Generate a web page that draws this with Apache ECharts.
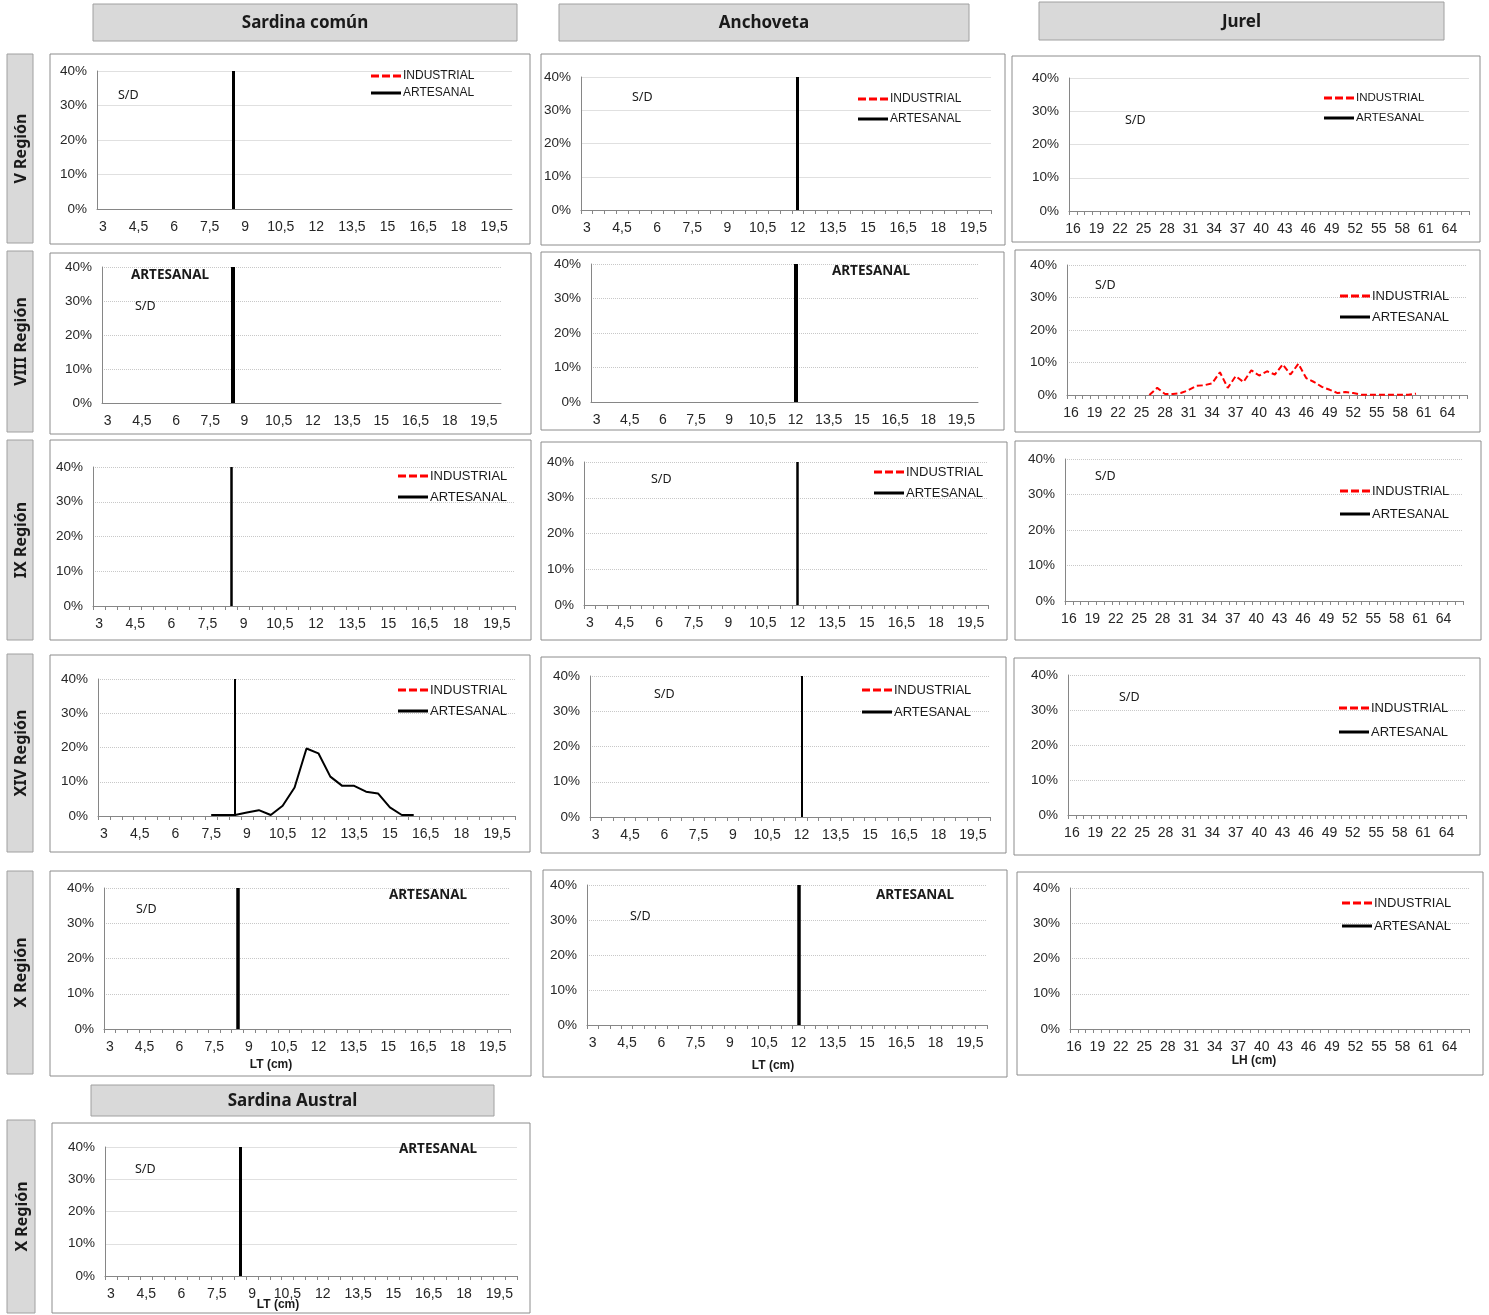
<!DOCTYPE html>
<html>
<head>
<meta charset="utf-8">
<title>Distribución de tallas por región</title>
<script src="https://cdn.jsdelivr.net/npm/echarts@6/dist/echarts.min.js"></script>
<style>
    html, body { margin: 0; padding: 0; background: #fff; }
    #chart { width: 1489px; height: 1315px; }
</style>
</head>
<body>
<div id="chart"></div>
<script>
(function() {

    // tallas (cm) de sardina común / anchoveta / sardina austral
    var tallasSardina = ['3', '3,5', '4', '4,5', '5', '5,5', '6', '6,5', '7', '7,5', '8', '8,5',
        '9', '9,5', '10', '10,5', '11', '11,5', '12', '12,5', '13', '13,5', '14', '14,5',
        '15', '15,5', '16', '16,5', '17', '17,5', '18', '18,5', '19', '19,5', '20'];

    // tallas (cm) de jurel
    var tallasJurel = ['16', '17', '18', '19', '20', '21', '22', '23', '24', '25', '26', '27',
        '28', '29', '30', '31', '32', '33', '34', '35', '36', '37', '38', '39', '40', '41',
        '42', '43', '44', '45', '46', '47', '48', '49', '50', '51', '52', '53', '54', '55',
        '56', '57', '58', '59', '60', '61', '62', '63', '64', '65', '66'];

    // eje y (%)
    var yMin = 0, yMax = 40, yPaso = 10;

    // XIV Región, sardina común, artesanal (%)
    var sardinaXIVArtesanal = [null, null, null, null, null, null, null, null, null,
        0.3, 0.3, 0.3, 1.0, 1.7, 0.3, 3.0, 8.3, 19.7, 18.3, 11.5, 8.8, 8.8, 7.1, 6.6,
        2.5, 0.3, 0.3, null, null, null, null, null, null, null, null];

    // VIII Región, jurel, industrial (%)
    var jurelVIIIIndustrial = [null, null, null, null, null, null, null, null, null, null,
        0.0, 2.2, 0.3, 0.3, 0.6, 1.5, 2.8, 3.0, 3.6, 7.0, 2.2, 5.8, 4.0, 7.6, 6.0, 7.3,
        6.3, 9.4, 6.3, 9.6, 5.2, 4.0, 2.5, 1.6, 0.6, 0.9, 0.6, 0.1, 0.1, 0.1, 0.1, 0.1,
        0.1, 0.1, 0.4, null, null, null, null, null, null];

    // talla mínima de referencia (línea vertical)
    var tallaRefSardina = '8,5';
    var tallaRefAnchoveta = '12';

    var encabezados = [
        { texto: 'Sardina común', caja: [93, 4, 424, 37] },
        { texto: 'Anchoveta', caja: [559, 4, 410, 37] },
        { texto: 'Jurel', caja: [1039, 2, 405, 38] },
        { texto: 'Sardina Austral', caja: [91, 1085, 403, 31] }
    ];

    var regiones = [
        { texto: 'V Región', caja: [7, 54, 26, 189] },
        { texto: 'VIII Región', caja: [7, 251, 26, 181] },
        { texto: 'IX Región', caja: [7, 440, 26, 200] },
        { texto: 'XIV Región', caja: [7, 654, 26, 198] },
        { texto: 'X Región', caja: [7, 871, 26, 203] },
        { texto: 'X Región', caja: [7, 1120, 28, 193] }
    ];

    var paneles = [
        // fila V Región
        { caja: [50, 54, 480, 190], grid: [97, 71, 415, 138], tallas: tallasSardina, ref: tallaRefSardina, lw: 3,
          ticks: false, solida: true, leyenda: [371, 76, 17, 12], sd: [118, 95] },
        { caja: [541, 54, 464, 191], grid: [581, 77, 410, 133], tallas: tallasSardina, ref: tallaRefAnchoveta, lw: 3,
          ticks: true, solida: true, leyenda: [858, 99, 20, 12], sd: [632, 97] },
        { caja: [1012, 56, 468, 186], grid: [1069, 78, 400, 133], tallas: tallasJurel,
          ticks: true, solida: true, leyenda: [1324, 98, 20, 11.5], sd: [1125, 120] },
        // fila VIII Región
        { caja: [50, 253, 481, 181], grid: [102, 267, 399, 136], tallas: tallasSardina, ref: tallaRefSardina, lw: 4,
          ticks: false, titulo: [170, 275], sd: [135, 306] },
        { caja: [541, 252, 463, 178], grid: [591, 264, 387, 138], tallas: tallasSardina, ref: tallaRefAnchoveta, lw: 4,
          ticks: false, titulo: [871, 271] },
        { caja: [1015, 250, 465, 182], grid: [1067, 265, 400, 130], tallas: tallasJurel, industrial: jurelVIIIIndustrial,
          ticks: true, leyenda: [1340, 296, 21, 13], sd: [1095, 285] },
        // fila IX Región
        { caja: [50, 440, 481, 200], grid: [93, 467, 422, 139], tallas: tallasSardina, ref: tallaRefSardina, lw: 2.5,
          ticks: true, leyenda: [398, 476, 21, 13] },
        { caja: [541, 442, 466, 198], grid: [584, 462, 404, 143], tallas: tallasSardina, ref: tallaRefAnchoveta, lw: 2.5,
          ticks: true, leyenda: [874, 472, 21, 13], sd: [651, 479] },
        { caja: [1015, 441, 466, 199], grid: [1065, 459, 398, 142], tallas: tallasJurel,
          ticks: true, leyenda: [1340, 491, 23, 13], sd: [1095, 476] },
        // fila XIV Región
        { caja: [50, 655, 480, 197], grid: [98, 679, 417, 137], tallas: tallasSardina, ref: tallaRefSardina, lw: 2,
          artesanal: sardinaXIVArtesanal, ticks: true, leyenda: [398, 690, 21, 13] },
        { caja: [541, 657, 465, 196], grid: [590, 676, 400, 141], tallas: tallasSardina, ref: tallaRefAnchoveta, lw: 2,
          ticks: true, leyenda: [862, 690, 22, 13], sd: [654, 694] },
        { caja: [1014, 658, 466, 197], grid: [1068, 675, 398, 140], tallas: tallasJurel,
          ticks: true, leyenda: [1339, 708, 24, 13], sd: [1119, 697] },
        // fila X Región
        { caja: [50, 871, 481, 205], grid: [104, 888, 406, 141], tallas: tallasSardina, ref: tallaRefSardina, lw: 3.5,
          ticks: true, titulo: [428, 895], sd: [136, 909], eje: ['LT (cm)', 271, 1065] },
        { caja: [543, 870, 464, 207], grid: [587, 885, 400, 140], tallas: tallasSardina, ref: tallaRefAnchoveta, lw: 3.5,
          ticks: true, titulo: [915, 895], sd: [630, 916], eje: ['LT (cm)', 773, 1066] },
        { caja: [1017, 872, 466, 203], grid: [1070, 888, 399, 141], tallas: tallasJurel,
          ticks: true, leyenda: [1342, 903, 23, 13], eje: ['LH (cm)', 1254, 1061] },
        // sardina austral, X Región
        { caja: [52, 1123, 478, 190], grid: [105, 1147, 412, 129], tallas: tallasSardina, ref: tallaRefSardina, lw: 3,
          ticks: true, solida: true, titulo: [438, 1149], sd: [135, 1169], eje: ['LT (cm)', 278, 1305] }
    ];

    var fuenteEjes = 'Liberation Sans, Arial, sans-serif';
    var fuenteTitulos = 'Noto Sans, Open Sans, sans-serif';
    var grisEje = '#868686';

    var iconoGuiones = 'path://M0,0h8v3h-8z M11,0h8v3h-8z M22,0h8v3h-8z';
    var iconoLinea = 'path://M0,0h30v3h-30z';

    function sinDatos(tallas) {
        return tallas.map(function() { return null; });
    }

    var option = {
        animation: false,
        backgroundColor: '#fff',
        grid: [],
        xAxis: [],
        yAxis: [],
        legend: [],
        series: [],
        graphic: []
    };

    // cajas de encabezado (especies)
    encabezados.forEach(function(e) {
        option.graphic.push({
            type: 'rect', z: 0,
            shape: { x: e.caja[0], y: e.caja[1], width: e.caja[2], height: e.caja[3] },
            style: { fill: '#d9d9d9', stroke: '#a0a0a0', lineWidth: 1 }
        });
        option.graphic.push({
            type: 'text', z: 1,
            x: e.caja[0] + e.caja[2] / 2, y: e.caja[1] + e.caja[3] / 2 + 1,
            style: { text: e.texto, fill: '#1a1a1a', font: 'bold 17px ' + fuenteTitulos,
                textAlign: 'center', textVerticalAlign: 'middle' }
        });
    });

    // cajas de región (texto vertical)
    regiones.forEach(function(r) {
        option.graphic.push({
            type: 'rect', z: 0,
            shape: { x: r.caja[0], y: r.caja[1], width: r.caja[2], height: r.caja[3] },
            style: { fill: '#d9d9d9', stroke: '#a0a0a0', lineWidth: 1 }
        });
        option.graphic.push({
            type: 'text', z: 1,
            x: r.caja[0] + r.caja[2] / 2 + 1, y: r.caja[1] + r.caja[3] / 2,
            rotation: Math.PI / 2,
            style: { text: r.texto, fill: '#1a1a1a', font: 'bold 16px ' + fuenteTitulos,
                textAlign: 'center', textVerticalAlign: 'middle' }
        });
    });

    paneles.forEach(function(p, i) {

        option.graphic.push({
            type: 'rect', z: 0,
            shape: { x: p.caja[0], y: p.caja[1], width: p.caja[2], height: p.caja[3] },
            style: { fill: '#fff', stroke: '#8c8c8c', lineWidth: 1 }
        });

        option.grid.push({
            left: p.grid[0], top: p.grid[1], width: p.grid[2], height: p.grid[3],
            containLabel: false
        });

        option.xAxis.push({
            gridIndex: i,
            type: 'category',
            data: p.tallas,
            boundaryGap: true,
            axisLine: { lineStyle: { color: grisEje, width: 1 } },
            axisTick: { show: p.ticks, interval: 0, length: 4, lineStyle: { color: grisEje } },
            axisLabel: { interval: 2, color: '#262626', fontSize: 14, fontFamily: fuenteEjes, margin: 11 },
            splitLine: { show: false }
        });

        option.yAxis.push({
            gridIndex: i,
            type: 'value',
            min: yMin, max: yMax, interval: yPaso,
            axisLine: { show: true, lineStyle: { color: grisEje, width: 1 } },
            axisTick: { show: false },
            axisLabel: { formatter: '{value}%', color: '#262626', fontSize: 13.5, fontFamily: fuenteEjes, margin: 10 },
            splitLine: {
                lineStyle: {
                    color: p.solida ? '#e0e0e0' : '#c8c8c8',
                    type: p.solida ? 'solid' : 'dotted',
                    width: 1
                }
            }
        });

        option.series.push({
            name: 'INDUSTRIAL',
            type: 'line',
            xAxisIndex: i, yAxisIndex: i,
            data: p.industrial || sinDatos(p.tallas),
            symbol: 'none',
            itemStyle: { color: '#ff0000' },
            lineStyle: { color: '#ff0000', width: 2, type: [6, 3] },
            silent: true
        });

        var artesanal = {
            name: 'ARTESANAL',
            type: 'line',
            xAxisIndex: i, yAxisIndex: i,
            data: p.artesanal || sinDatos(p.tallas),
            symbol: 'none',
            itemStyle: { color: '#000' },
            lineStyle: { color: '#000', width: 2 },
            silent: true
        };
        if (p.ref) {
            artesanal.markLine = {
                silent: true,
                symbol: 'none',
                label: { show: false },
                lineStyle: { color: '#000', width: p.lw, type: 'solid' },
                data: [{ xAxis: p.ref }]
            };
        }
        option.series.push(artesanal);

        if (p.leyenda) {
            var fs = p.leyenda[3];
            option.legend.push({
                left: p.leyenda[0],
                top: p.leyenda[1] - 7,
                orient: 'vertical',
                itemWidth: 30,
                itemHeight: 3,
                itemGap: p.leyenda[2] - 14,
                selectedMode: false,
                padding: 0,
                textStyle: { fontSize: fs, fontFamily: fuenteEjes, color: '#1a1a1a', lineHeight: 14, padding: [0, 0, 0, -3] },
                data: [
                    { name: 'INDUSTRIAL', icon: iconoGuiones },
                    { name: 'ARTESANAL', icon: iconoLinea }
                ]
            });
        }

        if (p.sd) {
            option.graphic.push({
                type: 'text', z: 5,
                x: p.sd[0], y: p.sd[1],
                style: { text: 'S/D', fill: '#1a1a1a', font: '12.5px ' + fuenteTitulos, textVerticalAlign: 'middle' }
            });
        }

        if (p.titulo) {
            option.graphic.push({
                type: 'text', z: 5,
                x: p.titulo[0], y: p.titulo[1],
                style: { text: 'ARTESANAL', fill: '#1a1a1a', font: 'bold 13.5px ' + fuenteTitulos,
                    textAlign: 'center', textVerticalAlign: 'middle' }
            });
        }

        if (p.eje) {
            option.graphic.push({
                type: 'text', z: 5,
                x: p.eje[1], y: p.eje[2],
                style: { text: p.eje[0], fill: '#1a1a1a', font: 'bold 12px ' + fuenteEjes,
                    textAlign: 'center', textVerticalAlign: 'middle' }
            });
        }
    });

    var myChart = echarts.init(document.getElementById('chart'));
    myChart.setOption(option);

})();
</script>
</body>
</html>
